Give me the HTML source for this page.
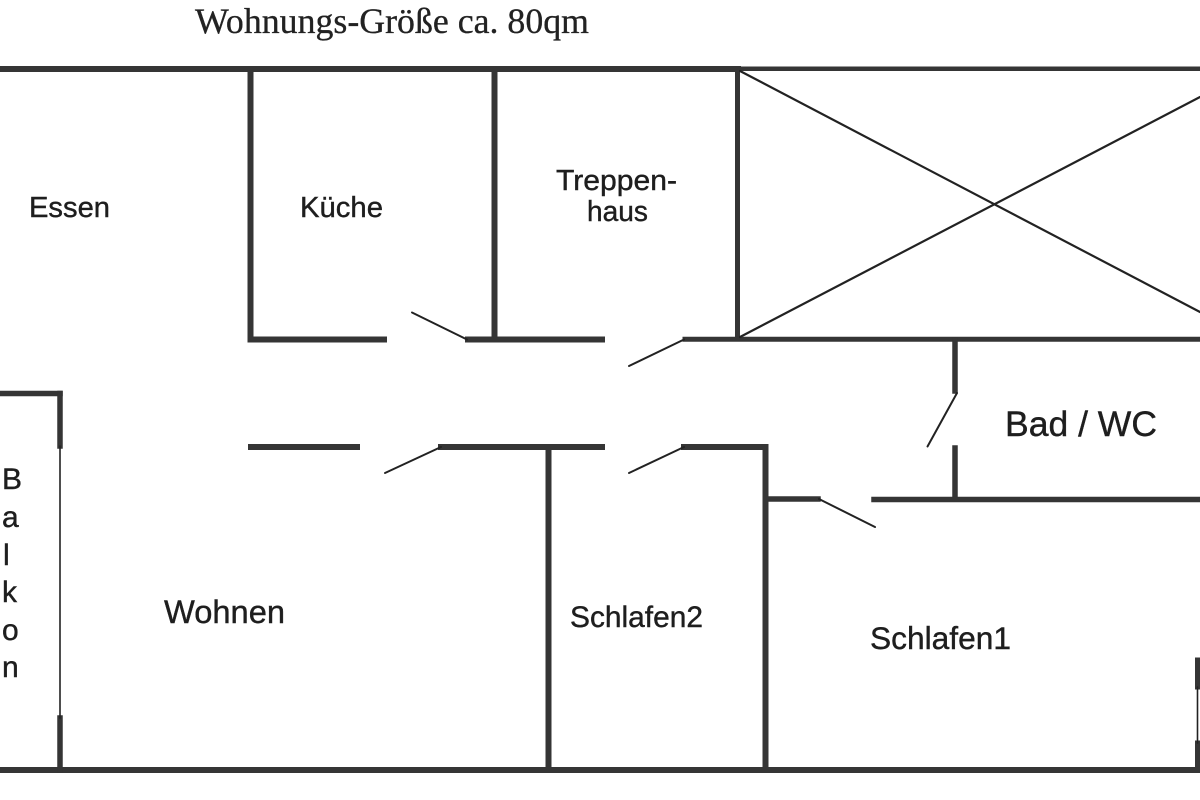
<!DOCTYPE html>
<html>
<head>
<meta charset="utf-8">
<style>
  html, body { margin: 0; padding: 0; background: #ffffff; }
  svg { display: block; }
  .t { font-family: "Liberation Sans", Arial, sans-serif; fill: #1e1e1e; stroke: #1e1e1e; stroke-width: 0.4; }
  .serif { font-family: "Liberation Serif", "Times New Roman", serif; fill: #222; stroke: #222; stroke-width: 0.3; }
</style>
</head>
<body>
<svg width="1200" height="800" viewBox="0 0 1200 800" xmlns="http://www.w3.org/2000/svg">
  <rect width="1200" height="800" fill="#ffffff"/>

  <!-- Title -->
  <text class="serif" x="195" y="33" font-size="36" textLength="394" lengthAdjust="spacingAndGlyphs">Wohnungs-Größe ca. 80qm</text>

  <g stroke="#353535" stroke-linecap="square" fill="none">
    <!-- top wall -->
    <line x1="0" y1="69" x2="738" y2="69" stroke-width="6"/>
    <line x1="738" y1="68.7" x2="1200" y2="68.7" stroke-width="4.5"/>

    <!-- Küche -->
    <line x1="250.5" y1="69" x2="250.5" y2="339.5" stroke-width="6"/>
    <line x1="250.5" y1="339.5" x2="384" y2="339.5" stroke-width="6"/>

    <!-- Treppenhaus wall -->
    <line x1="494.5" y1="69" x2="494.5" y2="339.5" stroke-width="6"/>
    <line x1="468" y1="339.5" x2="602" y2="339.5" stroke-width="6"/>

    <!-- X box -->
    <line x1="737.5" y1="69" x2="737.5" y2="339" stroke-width="5"/>
    <line x1="685" y1="339.3" x2="1200" y2="339.3" stroke-width="5"/>

    <!-- Bad stubs -->
    <line x1="955" y1="340" x2="955" y2="391" stroke-width="5.5"/>
    <line x1="955" y1="448" x2="955" y2="499" stroke-width="5.5"/>
    <line x1="874" y1="499.5" x2="1200" y2="499.5" stroke-width="5.5"/>
    <line x1="766" y1="499" x2="818" y2="499" stroke-width="5.5"/>

    <!-- Schlafen1/2 divider and top -->
    <line x1="765.5" y1="447" x2="765.5" y2="770" stroke-width="6"/>
    <line x1="684" y1="447" x2="765.5" y2="447" stroke-width="6"/>

    <!-- corridor lower walls -->
    <line x1="441" y1="447" x2="602" y2="447" stroke-width="6"/>
    <line x1="251" y1="447" x2="357" y2="447" stroke-width="6"/>

    <!-- Schlafen2 left wall -->
    <line x1="548.5" y1="447" x2="548.5" y2="770" stroke-width="6"/>

    <!-- bottom wall -->
    <line x1="0" y1="770" x2="1197" y2="770" stroke-width="6"/>

    <!-- right wall pieces -->
    <line x1="1197.5" y1="660" x2="1197.5" y2="687" stroke-width="5"/>
    <line x1="1197.5" y1="743" x2="1197.5" y2="770" stroke-width="5"/>

    <!-- Balkon -->
    <line x1="0" y1="393.5" x2="60" y2="393.5" stroke-width="5.5"/>
    <line x1="60" y1="393.5" x2="60" y2="446" stroke-width="5.5"/>
    <line x1="60" y1="718" x2="60" y2="770" stroke-width="5.5"/>
  </g>

  <g stroke="#222" fill="none" stroke-linecap="round">
    <!-- diagonals -->
    <line x1="740" y1="71" x2="1200" y2="312" stroke-width="2.2"/>
    <line x1="740" y1="337" x2="1200" y2="97" stroke-width="2.2"/>

    <!-- door swings -->
    <line x1="412" y1="312.5" x2="467" y2="339.5" stroke-width="2"/>
    <line x1="629" y1="366" x2="684" y2="339.5" stroke-width="2"/>
    <line x1="957" y1="393" x2="927.5" y2="446.5" stroke-width="2"/>
    <line x1="819" y1="499" x2="875" y2="527" stroke-width="2"/>
    <line x1="629" y1="473" x2="684" y2="447" stroke-width="2"/>
    <line x1="385" y1="473" x2="441" y2="447" stroke-width="2"/>

    <!-- thin window lines -->
    <line x1="60" y1="446" x2="60" y2="718" stroke-width="1.6"/>
    <line x1="1197.5" y1="687" x2="1197.5" y2="743" stroke-width="1.6"/>
  </g>

  <!-- Labels -->
  <text class="t" x="29" y="217" font-size="29" textLength="81" lengthAdjust="spacingAndGlyphs">Essen</text>
  <text class="t" x="300" y="217" font-size="29" textLength="83" lengthAdjust="spacingAndGlyphs">Küche</text>
  <text class="t" x="556" y="190" font-size="29" textLength="121" lengthAdjust="spacingAndGlyphs">Treppen-</text>
  <text class="t" x="587" y="221" font-size="29" textLength="61" lengthAdjust="spacingAndGlyphs">haus</text>
  <text class="t" x="1005" y="436" font-size="35" textLength="152" lengthAdjust="spacingAndGlyphs">Bad / WC</text>
  <text class="t" x="164" y="623" font-size="32" textLength="121" lengthAdjust="spacingAndGlyphs">Wohnen</text>
  <text class="t" x="570" y="627" font-size="30" textLength="133" lengthAdjust="spacingAndGlyphs">Schlafen2</text>
  <text class="t" x="870" y="649" font-size="31.5" textLength="141" lengthAdjust="spacingAndGlyphs">Schlafen1</text>

  <!-- Balkon vertical -->
  <text class="t" x="2" y="489" font-size="30">B</text>
  <text class="t" x="2" y="527" font-size="30">a</text>
  <text class="t" x="3" y="565" font-size="30">l</text>
  <text class="t" x="2" y="602" font-size="30">k</text>
  <text class="t" x="2" y="640" font-size="30">o</text>
  <text class="t" x="2" y="677" font-size="30">n</text>
</svg>
</body>
</html>
